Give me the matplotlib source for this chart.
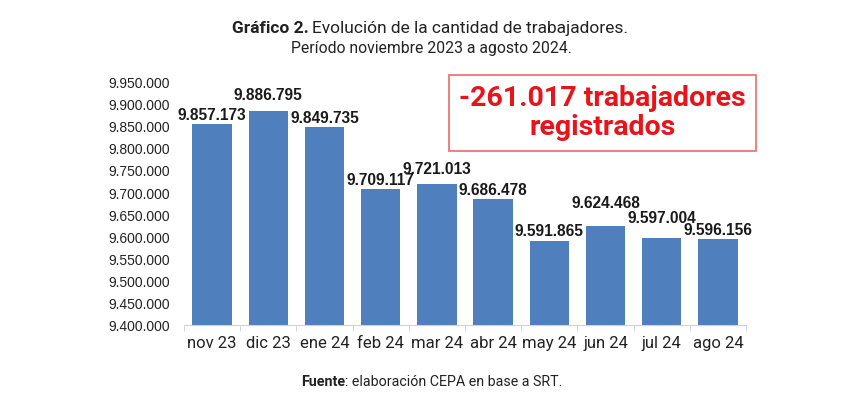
import matplotlib.pyplot as plt
import matplotlib.ticker as mticker
import numpy as np

meses = ['nov 23', 'dic 23', 'ene 24', 'feb 24', 'mar 24', 'abr 24',
         'may 24', 'jun 24', 'jul 24', 'ago 24']
trabajadores = [9857173, 9886795, 9849735, 9709117, 9721013, 9686478,
                9591865, 9624468, 9597004, 9596156]
# desplazamiento vertical extra de algunas etiquetas (pt), como en el original
etiqueta_dy = [0, 5, 0, 0, 4, 0, 0, 10, 8, 0]


def fmt_miles(v):
    return f'{int(v):,}'.replace(',', '.')


fig = plt.figure(figsize=(8.62, 3.95), dpi=100)
ax = fig.add_axes([0.2135, 0.177, 0.652, 0.613])

x = np.arange(len(meses))
ax.bar(x, trabajadores, width=0.7, color='#4f7fbd', zorder=2)

ax.set_ylim(9400000, 9950000)
ax.set_xlim(-0.5, len(meses) - 0.5)
ax.yaxis.set_major_locator(mticker.MultipleLocator(50000))
ax.yaxis.set_major_formatter(mticker.FuncFormatter(lambda v, p: fmt_miles(v)))
ax.tick_params(axis='y', length=0, labelsize=10, pad=10, labelcolor='#222222')
for lab in ax.get_yticklabels():
    lab.set_family('Liberation Sans')

ax.set_xticks(x)
ax.set_xticklabels(meses, family='Roboto', fontsize=12, color='#222222')
ax.xaxis.set_minor_locator(mticker.FixedLocator(np.arange(-0.5, len(meses), 1)))
ax.tick_params(axis='x', which='major', length=0, pad=8)
ax.tick_params(axis='x', which='minor', length=4, color='#d0d0d0')

for s in ['top', 'right', 'left']:
    ax.spines[s].set_visible(False)
ax.spines['bottom'].set_color('#d0d0d0')

for xi, v, dy in zip(x, trabajadores, etiqueta_dy):
    ax.annotate(fmt_miles(v), (xi, v), xytext=(0, 3 + dy), textcoords='offset points',
                ha='center', va='baseline', fontsize=11.2, fontweight='bold',
                family='Liberation Sans', color='#1a1a1a')

# titulo
fig.text(0.358, 0.928, 'Gráfico 2.', ha='right', va='center', family='Roboto',
         fontweight='bold', fontsize=12.5, color='#222222')
fig.text(0.362, 0.928, 'Evolución de la cantidad de trabajadores.', ha='left',
         va='center', family='Roboto', fontsize=12.5, color='#222222')
fig.text(0.5, 0.877, 'Período noviembre 2023 a agosto 2024.', ha='center',
         va='center', family='Roboto', fontsize=11.3, color='#222222')

# recuadro
fig.text(0.699, 0.715, '-261.017 trabajadores\nregistrados', ha='center',
         va='center', family='Roboto', fontweight='bold', fontsize=20.5,
         color='#e8141c', linespacing=1.1,
         bbox=dict(boxstyle='square,pad=0.35', fc='white', ec='#ee6a6a', lw=1.2))

# fuente
fig.text(0.40, 0.033, 'Fuente', ha='right', va='center', family='Roboto',
         fontweight='bold', fontsize=10.3, color='#222222')
fig.text(0.40, 0.033, ': elaboración CEPA en base a SRT.', ha='left',
         va='center', family='Roboto', fontsize=10.3, color='#222222')

fig.savefig('out.png', dpi=100, facecolor='white')
